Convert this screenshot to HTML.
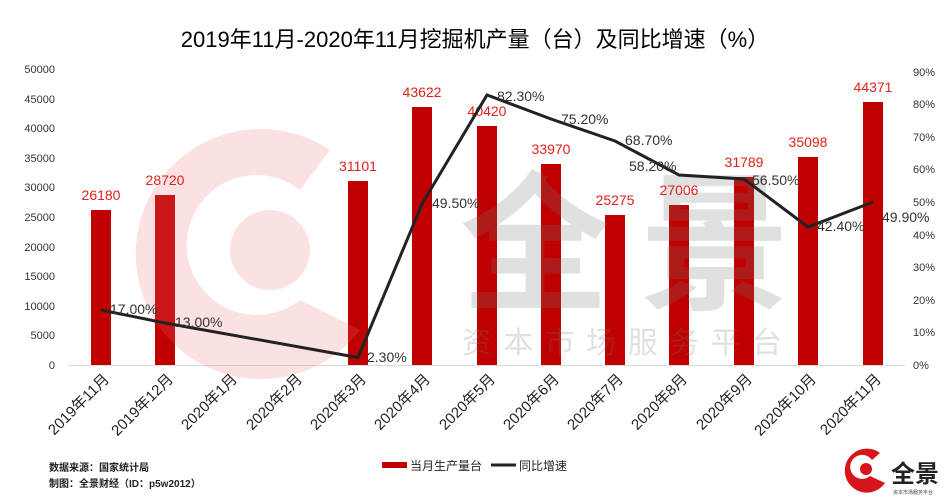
<!DOCTYPE html><html><head><meta charset="utf-8"><style>body{margin:0;background:#fff}svg{display:block}text{font-family:"Liberation Sans","Noto Sans CJK SC",sans-serif}</style></head><body>
<svg width="951" height="498" xmlns="http://www.w3.org/2000/svg">
<text x="475" y="47" font-size="22" text-anchor="middle" fill="#000">2019年11月-2020年11月挖掘机产量（台）及同比增速（%）</text>
<g font-size="11" fill="#333" text-anchor="end">
<text x="55" y="369">0</text><text x="55" y="339">5000</text><text x="55" y="310">10000</text><text x="55" y="280">15000</text><text x="55" y="251">20000</text><text x="55" y="221">25000</text><text x="55" y="191">30000</text><text x="55" y="162">35000</text><text x="55" y="132">40000</text><text x="55" y="103">45000</text><text x="55" y="73">50000</text>
</g>
<g font-size="11" fill="#333">
<text x="913" y="369">0%</text><text x="913" y="336">10%</text><text x="913" y="304">20%</text><text x="913" y="271">30%</text><text x="913" y="239">40%</text><text x="913" y="206">50%</text><text x="913" y="173">60%</text><text x="913" y="141">70%</text><text x="913" y="108">80%</text><text x="913" y="76">90%</text>
</g>
<line x1="68" y1="365.5" x2="905" y2="365.5" stroke="#d9d9d9"/>
<g fill="#c00000">
<rect x="91" y="210" width="20" height="155"/><rect x="155" y="195" width="20" height="170"/>
<rect x="348" y="181" width="20" height="184"/><rect x="412" y="107" width="20" height="258"/>
<rect x="477" y="126" width="20" height="239"/><rect x="541" y="164" width="20" height="201"/>
<rect x="605" y="215" width="20" height="150"/><rect x="669" y="205" width="20" height="160"/>
<rect x="734" y="177" width="20" height="188"/><rect x="798" y="157" width="20" height="208"/>
<rect x="863" y="102" width="20" height="263"/>
</g>
<g opacity="0.2">
<path d="M330,150 A125,125 0 1 0 360,330 L300,300 A70,70 0 1 1 300,190 Z" fill="#f07070"/>
<circle cx="270" cy="250" r="40" fill="#f07070"/>
</g>
<g opacity="0.22" fill="#777">
<text x="460" y="298" font-size="150" font-weight="bold" textLength="330">全景</text>
<text x="462" y="353" font-size="30" textLength="320">资本市场服务平台</text>
</g>
<g font-size="14" fill="#e0201c" text-anchor="middle">
<text x="101" y="200">26180</text><text x="165" y="185">28720</text><text x="358" y="171">31101</text><text x="422" y="97">43622</text><text x="487" y="116">40420</text><text x="551" y="154">33970</text><text x="615" y="205">25275</text><text x="679" y="195">27006</text><text x="744" y="167">31789</text><text x="808" y="147">35098</text><text x="873" y="92">44371</text>
</g>
<polyline fill="none" stroke="#222" stroke-width="3" points="101,310 165,323 358,357.5 422,204 487,95 551,119 615,141 679,175 744,179 808,227 873,202"/>
<g font-size="14" fill="#333">
<text x="110" y="314">17.00%</text><text x="175" y="327">13.00%</text><text x="367" y="362">2.30%</text><text x="432" y="208">49.50%</text><text x="497" y="101">82.30%</text><text x="561" y="124">75.20%</text><text x="625" y="145">68.70%</text><text x="629" y="171">58.20%</text><text x="752" y="185">56.50%</text><text x="817" y="231">42.40%</text><text x="882" y="222">49.90%</text>
</g>
<g font-size="15" fill="#222" text-anchor="end">
<text transform="translate(110,380) rotate(-45)">2019年11月</text>
<text transform="translate(174,380) rotate(-45)">2019年12月</text>
<text transform="translate(238,380) rotate(-45)">2020年1月</text>
<text transform="translate(303,380) rotate(-45)">2020年2月</text>
<text transform="translate(367,380) rotate(-45)">2020年3月</text>
<text transform="translate(431,380) rotate(-45)">2020年4月</text>
<text transform="translate(496,380) rotate(-45)">2020年5月</text>
<text transform="translate(560,380) rotate(-45)">2020年6月</text>
<text transform="translate(624,380) rotate(-45)">2020年7月</text>
<text transform="translate(688,380) rotate(-45)">2020年8月</text>
<text transform="translate(753,380) rotate(-45)">2020年9月</text>
<text transform="translate(817,380) rotate(-45)">2020年10月</text>
<text transform="translate(882,380) rotate(-45)">2020年11月</text>
</g>
<g font-size="10" font-weight="bold" fill="#222">
<text x="49" y="471">数据来源：国家统计局</text>
<text x="49" y="487">制图：全景财经（ID：p5w2012）</text>
</g>
<rect x="382" y="462" width="25" height="6" fill="#c00000"/>
<text x="410" y="470" font-size="12" fill="#222">当月生产量台</text>
<line x1="491" y1="465" x2="516" y2="465" stroke="#222" stroke-width="3"/>
<text x="519" y="470" font-size="12" fill="#222">同比增速</text>
<path d="M880,453 A22,22 0 1 0 885,483 L870,476 A12,12 0 1 1 872,460 Z" fill="#d7141a"/>
<circle cx="866" cy="469" r="6" fill="#d7141a"/>
<text x="891" y="482" font-size="24" font-weight="bold" fill="#222">全景</text>
<text x="893" y="494" font-size="5" fill="#444">资本市场服务平台</text>
</svg>
</body></html>
